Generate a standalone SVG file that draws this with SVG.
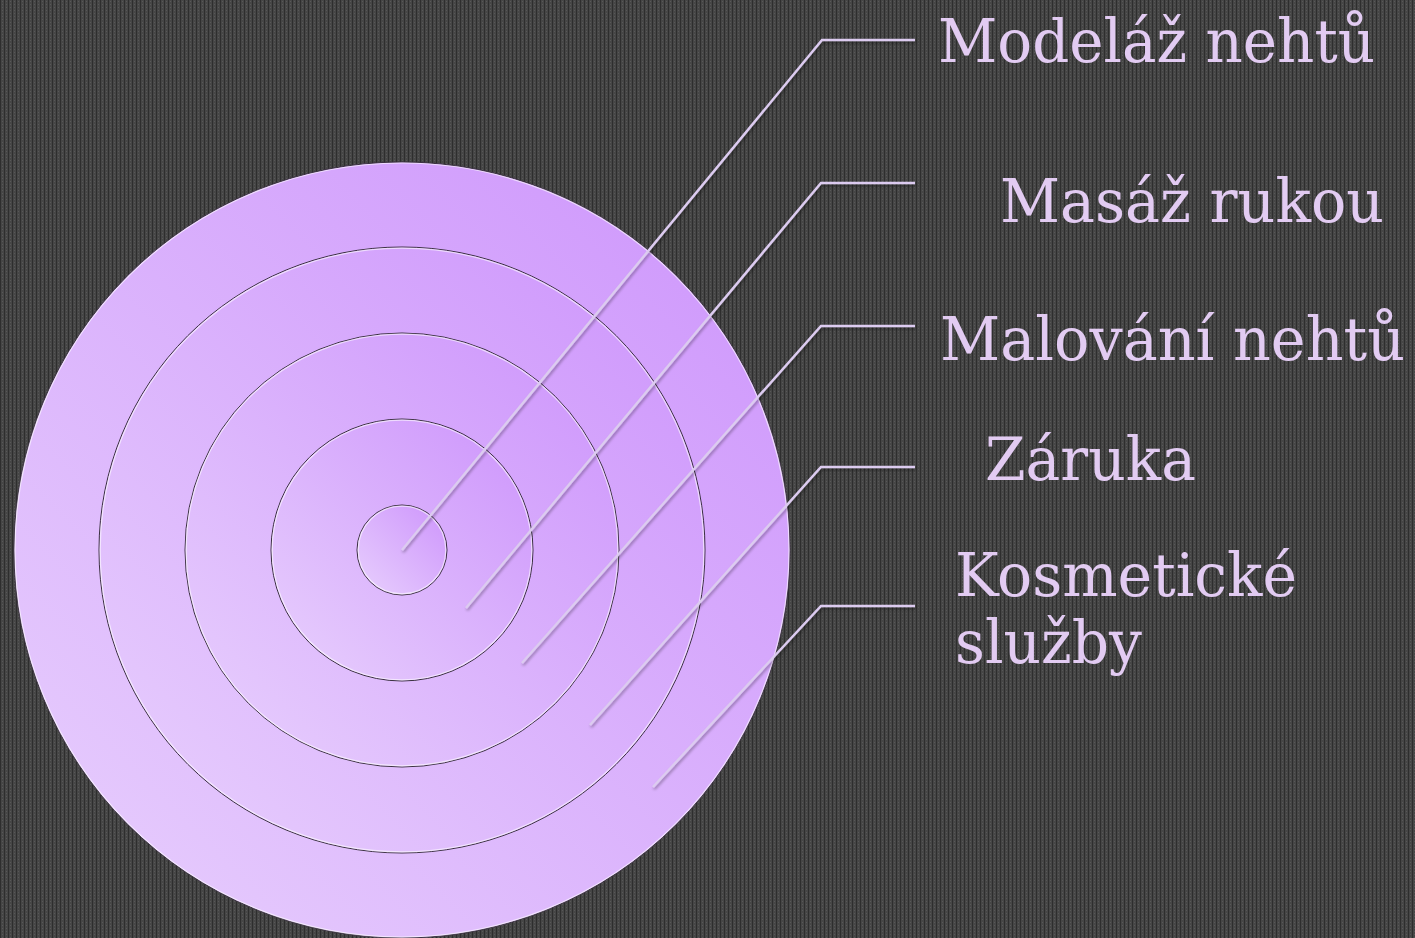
<svg xmlns="http://www.w3.org/2000/svg" width="1415" height="938" viewBox="0 0 1415 938">
<defs>
<pattern id="bg" width="4" height="3" patternUnits="userSpaceOnUse">
<rect width="4" height="3" fill="#464646"/>
<rect x="0" y="0" width="1" height="3" fill="#2e2e2e"/>
<rect x="2" y="1" width="1" height="1" fill="#585858"/>
</pattern>
<linearGradient id="g" x1="0" y1="1" x2="1" y2="0">
<stop offset="0" stop-color="#e8d0fd"/>
<stop offset="1" stop-color="#cd94fc"/>
</linearGradient>
<filter id="sh" x="-10%" y="-10%" width="120%" height="120%">
<feGaussianBlur in="SourceAlpha" stdDeviation="1.5"/>
<feOffset dx="1" dy="2" result="b"/>
<feComponentTransfer><feFuncA type="linear" slope="0.35"/></feComponentTransfer>
<feMerge><feMergeNode/><feMergeNode in="SourceGraphic"/></feMerge>
</filter>
</defs>
<style>
.ring{fill:url(#g);stroke:#3a3040;stroke-width:1}
.hl{fill:none;stroke:#ffffff;stroke-opacity:0.6;stroke-width:1.2}
.con{fill:none;stroke:#dccbf0;stroke-width:2.5;stroke-linejoin:miter}
.lbl{font-family:"DejaVu Serif",serif;font-size:59px;fill:#e2cbf2}
</style>
<rect width="1415" height="938" fill="url(#bg)"/>
<g id="ring1"><circle class="ring" cx="402" cy="550" r="388" stroke="none"/><circle class="hl" cx="402" cy="550" r="387"/></g>
<g id="ring2"><circle class="ring" cx="402" cy="550" r="303"/><circle class="hl" cx="402" cy="550" r="301.8"/></g>
<g id="ring3"><circle class="ring" cx="402" cy="550" r="217"/><circle class="hl" cx="402" cy="550" r="215.8"/></g>
<g id="ring4"><circle class="ring" cx="402" cy="550" r="131"/><circle class="hl" cx="402" cy="550" r="129.8"/></g>
<g id="ring5"><circle class="ring" cx="402" cy="550" r="45"/><circle class="hl" cx="402" cy="550" r="43.8"/></g>
<g id="connectors" filter="url(#sh)">
<polyline class="con" points="402,550 822,40 915,40"/>
<polyline class="con" points="466,608 821,183 915,183"/>
<polyline class="con" points="522,663 821,326 915,326"/>
<polyline class="con" points="590,725 821,467 915,467"/>
<polyline class="con" points="653,787 821,606 915,606"/>
</g>
<g id="label1"><text class="lbl" x="938" y="62" textLength="437" lengthAdjust="spacingAndGlyphs">Modeláž nehtů</text></g>
<g id="label2"><text class="lbl" x="1000" y="222" textLength="384" lengthAdjust="spacingAndGlyphs">Masáž rukou</text></g>
<g id="label3"><text class="lbl" x="940" y="360" textLength="465" lengthAdjust="spacingAndGlyphs">Malování nehtů</text></g>
<g id="label4"><text class="lbl" x="985" y="480" textLength="211" lengthAdjust="spacingAndGlyphs">Záruka</text></g>
<g id="label5"><text class="lbl" x="955" y="596" textLength="342" lengthAdjust="spacingAndGlyphs">Kosmetické</text><text class="lbl" x="955" y="663" textLength="187" lengthAdjust="spacingAndGlyphs">služby</text></g>
</svg>
